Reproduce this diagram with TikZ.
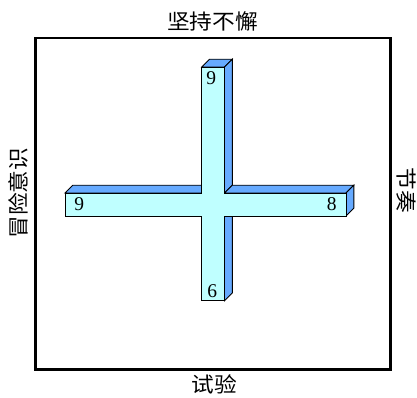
\documentclass[tikz,border=0pt]{standalone}
\usepackage{fontspec}
\setmainfont{Liberation Serif}
\newfontfamily\cjk{Noto Sans CJK SC}[FakeStretch=1.08]
\definecolor{facefront}{RGB}{191,255,255}
\definecolor{faceside}{RGB}{102,170,255}

\begin{document}
\begin{tikzpicture}[x=1pt,y=-1pt,line join=miter]
  \useasboundingbox (0,0) rectangle (417,397);
  \def\dep{7.8}
  \tikzset{
    face/.style={draw=black,line width=0.9pt,fill=faceside},
    digit/.style={font=\fontsize{19.5}{19.5}\selectfont,inner sep=0pt},
    side label/.style={font=\cjk\fontsize{21}{21}\selectfont,inner sep=0pt}
  }
  % outer frame
  \draw[line width=2.6pt] (35.5,38) rectangle (390.5,369.5);
  % top and side faces of the cross
  \draw[face] (201.7,67) -- ++(\dep,-\dep) -- ++(22.8,0) -- (224.5,67) -- cycle;
  \draw[face] (224.5,67) -- ++(\dep,-\dep) -- (224.5+\dep,193-\dep) -- (224.5,193) -- cycle;
  \draw[face] (224.5,193) -- ++(\dep,-\dep) -- (346+\dep,193-\dep) -- (346,193) -- cycle;
  \draw[face] (346,193) -- ++(\dep,-\dep) -- ++(0,23) -- (346,216) -- cycle;
  \draw[face] (224.5,216) -- ++(\dep,0) -- (224.5+\dep,300.7-\dep) -- (224.5,300.7) -- cycle;
  \draw[face] (65,193) -- ++(\dep,-\dep) -- (201.7,193-\dep) -- (201.7,193) -- cycle;
  % front face
  \draw[line width=0.9pt,fill=facefront]
    (201.7,67) -- (224.5,67) -- (224.5,193) -- (346,193) -- (346,216)
    -- (224.5,216) -- (224.5,300.7) -- (201.7,300.7) -- (201.7,216)
    -- (65,216) -- (65,193) -- (201.7,193) -- cycle;
  % numbers on the arms
  \node[digit] (ntop) at (211.3,78) {9};
  \node[digit] (nleft) at (79.2,204.3) {9};
  \node[digit] (nright) at (331.8,204.3) {8};
  \node[digit] (nbottom) at (212.2,291) {6};
  % labels round the frame
  \node[side label] (ltop) at (212.5,21.7) {坚持不懈};
  \node[side label] (lbottom) at (214,384) {试验};
  \node[side label,rotate=90] (lleft) at (18.3,193) {冒险意识};
  \node[side label,rotate=-90] (lright) at (406.7,190) {节奏};
\end{tikzpicture}
\end{document}
